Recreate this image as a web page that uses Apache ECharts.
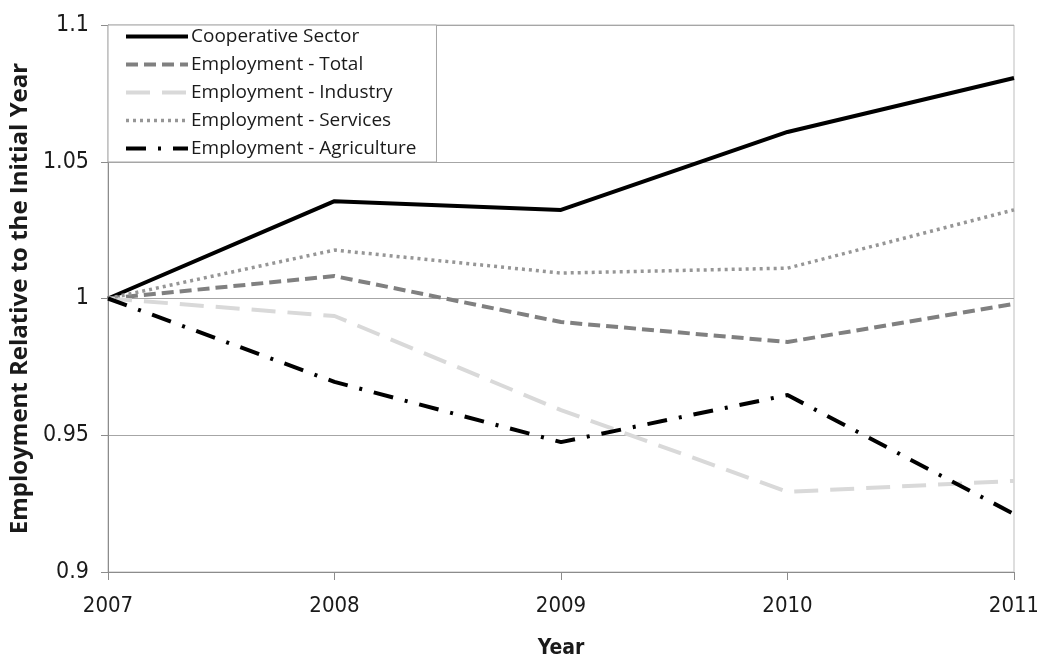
<!DOCTYPE html>
<html><head><meta charset="utf-8">
<script src="https://cdn.jsdelivr.net/npm/echarts@6/dist/echarts.min.js"></script>
<style>html,body{margin:0;padding:0;background:#fff}#c{width:1037px;height:656px}</style>
</head><body><div id="c"></div>
<script>
const years = ['2007','2008','2009','2010','2011'];
const cooperative = [1.0, 1.0356, 1.0324, 1.0609, 1.0806];
const empTotal = [1.0, 1.0082, 0.9914, 0.9841, 0.998];
const empIndustry = [1.0, 0.9936, 0.9592, 0.9293, 0.9333];
const empServices = [1.0, 1.0177, 1.0093, 1.0111, 1.0324];
const empAgriculture = [1.0, 0.9695, 0.9475, 0.9647, 0.9212];
const yTicks = [0.9, 0.95, 1, 1.05, 1.1];

const font = 'Open Sans';
const narrow = '"Liberation Sans Narrow", "DejaVu Sans Condensed", "Open Sans", sans-serif';
function mk(name, data, color, width, dash) {
  return {name, type:'line', data, symbol:'none', smooth:false,
    lineStyle:{color, width, type:dash, cap:'butt'}, itemStyle:{color}, z: 3};
}
const chart = echarts.init(document.getElementById('c'));
chart.setOption({
  animation:false,
  textStyle:{fontFamily:font},
  grid:{left:108, right:23, top:25, bottom:84, outerBoundsMode:'none', containLabel:false,
    show:true, borderColor:'#bdbdbd', borderWidth:1},
  legend:{
    orient:'vertical', left:108, top:25,
    padding:[2,20,4,16], itemGap:9, itemWidth:62, itemHeight:20,
    borderColor:'#a6a6a6', borderWidth:1, backgroundColor:'#fff',
    itemStyle:{opacity:0},
    lineStyle:{width:'inherit', type:'inherit', cap:'butt'},
    textStyle:{fontFamily:font, fontSize:19, color:'#1a1a1a', padding:[0,0,0,-2]},
    data:['Cooperative Sector','Employment - Total','Employment - Industry','Employment - Services','Employment - Agriculture']
  },
  xAxis:{type:'category', data:years, boundaryGap:false,
    name:'Year', nameLocation:'middle', nameGap:66,
    nameTextStyle:{fontFamily:narrow, fontSize:21, fontWeight:'bold', color:'#1a1a1a'},
    axisLine:{lineStyle:{color:'#8c8c8c', width:1}},
    axisTick:{show:true, length:8, lineStyle:{color:'#8c8c8c'}},
    axisLabel:{fontFamily:narrow, fontSize:22, color:'#1a1a1a', margin:23},
    splitLine:{show:false}},
  yAxis:{type:'value', min:0.9, max:1.1, interval:0.05,
    name:'Employment Relative to the Initial Year', nameLocation:'middle', nameGap:70,
    nameTextStyle:{fontFamily:font, fontSize:24, fontWeight:'bold', color:'#1a1a1a'},
    axisLine:{show:true, lineStyle:{color:'#8c8c8c', width:1}},
    axisTick:{show:true, length:7, lineStyle:{color:'#8c8c8c'}},
    axisLabel:{fontFamily:narrow, fontSize:23, color:'#1a1a1a', margin:19,
      formatter: v => { const t = yTicks.find(k => Math.abs(k - v) < 1e-9); return t === undefined ? '' : String(t); }},
    splitLine:{show:true, lineStyle:{color:'#a6a6a6', width:1}}},
  series:[
    mk('Cooperative Sector', cooperative, '#000000', 4, 'solid'),
    mk('Employment - Total', empTotal, '#808080', 4, [12,6]),
    mk('Employment - Industry', empIndustry, '#d9d9d9', 4, [24,12]),
    mk('Employment - Services', empServices, '#969696', 3.5, [3,4]),
    mk('Employment - Agriculture', empAgriculture, '#000000', 4, [20,12,3,12])
  ]
});
</script></body></html>
